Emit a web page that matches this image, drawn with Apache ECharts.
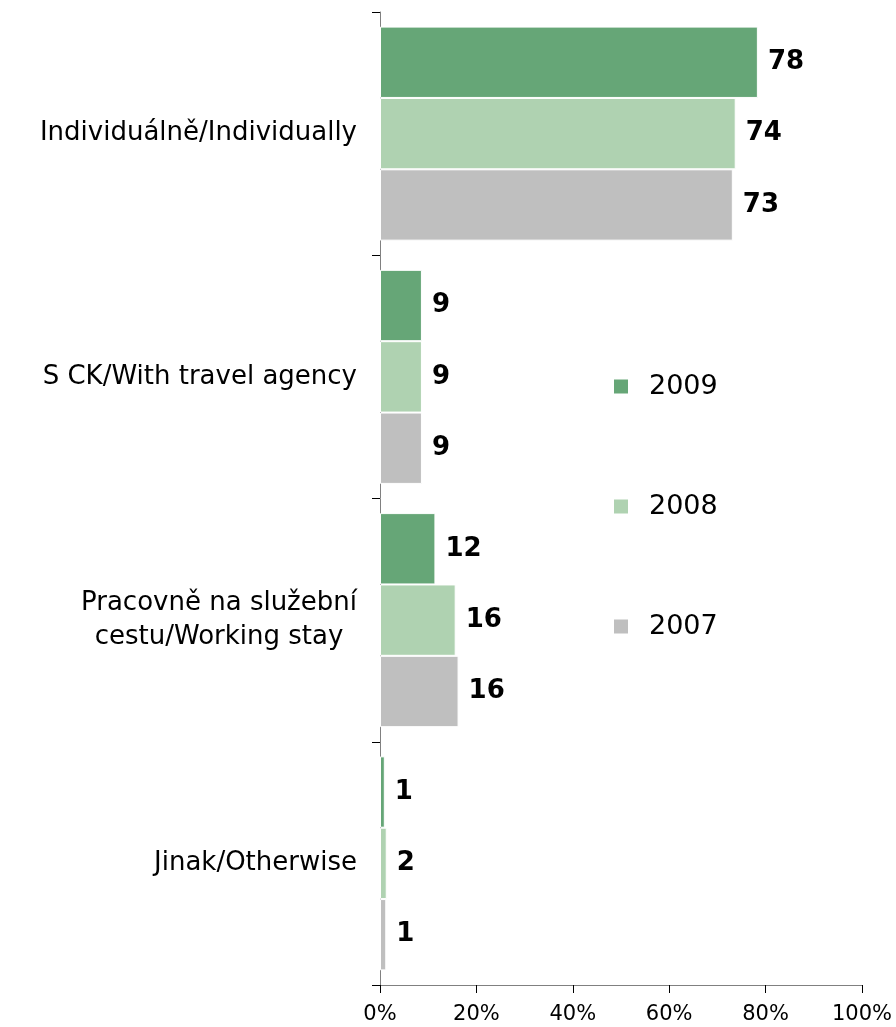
<!DOCTYPE html>
<html>
<head>
<meta charset="utf-8">
<script src="https://cdn.jsdelivr.net/npm/echarts@6/dist/echarts.min.js"></script>
<style>
html,body{margin:0;padding:0;background:#fff;}
#chart{width:896px;height:1027px;}
</style>
</head>
<body>
<div id="chart"></div>
<script>
var categories = ['Individuálně/Individually', 'S CK/With travel agency', 'Pracovně na služební\ncestu/Working stay', 'Jinak/Otherwise'];
var seriesNames = ['2009', '2008', '2007'];
var values2009 = [78.4, 8.7, 11.5, 1.0];
var values2008 = [73.8, 8.7, 15.7, 1.4];
var values2007 = [73.2, 8.7, 16.3, 1.3];
var labels2009 = [78, 9, 12, 1];
var labels2008 = [74, 9, 16, 2];
var labels2007 = [73, 9, 16, 1];
var xTicks = [0, 20, 40, 60, 80, 100];

var FONT = '"DejaVu Sans", Verdana, sans-serif';
var colors = ['#66A677', '#AFD2B1', '#BFBFBF'];
var CAT_SIZE = 26;

var ctx = document.createElement('canvas').getContext('2d');
ctx.font = CAT_SIZE + 'px ' + FONT;
function lineW(s){ return Math.ceil(ctx.measureText(s).width); }

var chart = echarts.init(document.getElementById('chart'));

function mkSeries(name, vals, labs, color){
  return {
    name: name,
    type: 'bar',
    data: vals,
    barGap: '0%',
    barCategoryGap: '12%',
    itemStyle: { color: color, borderColor: '#fff', borderWidth: 1 },
    label: {
      show: true,
      position: 'right',
      distance: 10,
      fontFamily: FONT,
      fontSize: 26,
      fontWeight: 'bold',
      color: '#000',
      formatter: function(p){ return String(labs[p.dataIndex]); }
    }
  };
}

var wrapW = Math.max.apply(null, categories.join('\n').split('\n').filter(function(s){
  return categories.some(function(c){ return c.indexOf('\n') >= 0 && c.indexOf(s) >= 0; });
}).map(lineW));

chart.setOption({
  animation: false,
  textStyle: { fontFamily: FONT },
  grid: { left: 380, right: 34, top: 12, bottom: 42, containLabel: false },
  legend: {
    orient: 'vertical',
    left: 612,
    top: 373,
    padding: 0,
    itemWidth: 16,
    itemHeight: 16,
    itemGap: 93,
    icon: 'rect',
    data: seriesNames,
    textStyle: { fontFamily: FONT, fontSize: 27, color: '#000', padding: [0, 0, 0, 15] }
  },
  xAxis: {
    type: 'value',
    min: 0,
    max: 100,
    interval: 20,
    axisLine: { show: true, lineStyle: { color: '#808080', width: 1 } },
    axisTick: { show: true, length: 8, lineStyle: { color: '#000' } },
    splitLine: { show: false },
    axisLabel: {
      fontFamily: FONT, fontSize: 21, color: '#000', margin: 19,
      formatter: function(v){ return v + '%'; }
    }
  },
  yAxis: {
    type: 'category',
    inverse: true,
    data: categories,
    axisLine: { show: true, lineStyle: { color: '#808080', width: 1 } },
    axisTick: { show: true, length: 8, lineStyle: { color: '#000' } },
    axisLabel: {
      fontFamily: FONT, fontSize: CAT_SIZE, color: '#000', margin: 23, lineHeight: 34,
      formatter: function(v){
        var lines = v.split('\n');
        if (lines.length === 1) return v;
        return lines.map(function(l){ return '{c|' + l + '}'; }).join('\n');
      },
      rich: {
        c: { fontFamily: FONT, fontSize: CAT_SIZE, color: '#000', align: 'center', lineHeight: 34, width: wrapW }
      }
    }
  },
  series: [
    mkSeries(seriesNames[0], values2009, labels2009, colors[0]),
    mkSeries(seriesNames[1], values2008, labels2008, colors[1]),
    mkSeries(seriesNames[2], values2007, labels2007, colors[2])
  ]
});
</script>
</body>
</html>
